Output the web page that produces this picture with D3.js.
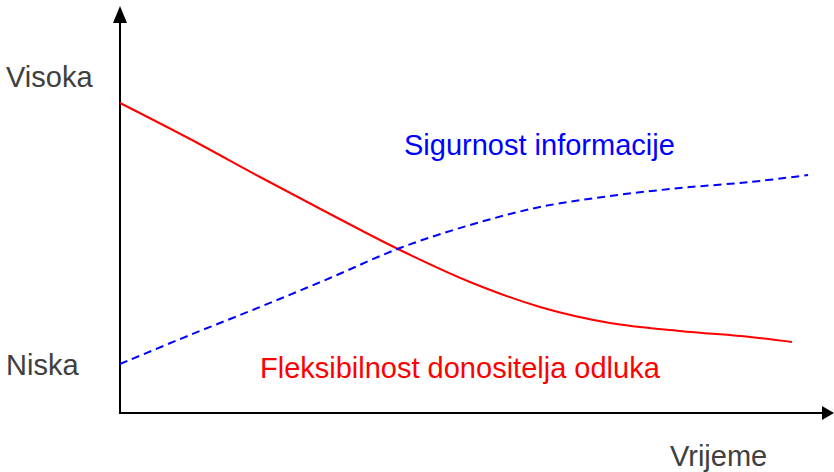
<!DOCTYPE html>
<html>
<head>
<meta charset="utf-8">
<script src="https://cdn.jsdelivr.net/npm/d3@7"></script>
<style>
  body { margin: 0; background: #fff; }
  svg { display: block; font-family: "Liberation Sans", Arial, sans-serif; }
</style>
</head>
<body>
<script>
// time on x (0-100), level on y (0 = bottom axis)
const timePoints = [0, 10, 20, 30, 40, 50, 60, 70, 80, 90, 96];
const flexibility = [77.5, 68.5, 59, 49.75, 40.75, 32.75, 26.5, 22.5, 20.5, 19, 17.75];

const infoTime = [0, 10, 20, 30, 40, 50, 60, 70, 80, 90, 98.3];
const certainty = [12.25, 19.5, 26.5, 33.75, 41.25, 47, 51.5, 54.25, 56.25, 57.75, 59.5];

const yLabels = [{ text: 'Visoka', v: 81.5 }, { text: 'Niska', v: 9.5 }];

const width = 834, height = 472;

const svg = d3.select('body')
  .append('svg')
  .attr('width', width)
  .attr('height', height);

const x = d3.scaleLinear().domain([0, 100]).range([120, 820]);
const y = d3.scaleLinear().domain([0, 100]).range([413, 13]);

// axes with arrow heads
svg.append('line')
  .attr('x1', x(0)).attr('y1', y(0) + 1)
  .attr('x2', x(0)).attr('y2', 20)
  .attr('stroke', '#000').attr('stroke-width', 2);
svg.append('path')
  .attr('d', `M${x(0) - 7},23 L${x(0)},6 L${x(0) + 7},23 Z`)
  .attr('fill', '#000');

svg.append('line')
  .attr('x1', x(0) - 1).attr('y1', y(0))
  .attr('x2', 822).attr('y2', y(0))
  .attr('stroke', '#000').attr('stroke-width', 2);
svg.append('path')
  .attr('d', `M822,${y(0) - 7} L834,${y(0)} L822,${y(0) + 7} Z`)
  .attr('fill', '#000');

const line = d3.line()
  .x(d => x(d[0]))
  .y(d => y(d[1]))
  .curve(d3.curveCatmullRom);

svg.append('path')
  .datum(d3.zip(timePoints, flexibility))
  .attr('d', line)
  .attr('fill', 'none')
  .attr('stroke', '#ff0000')
  .attr('stroke-width', 2);

svg.append('path')
  .datum(d3.zip(infoTime, certainty))
  .attr('d', line)
  .attr('fill', 'none')
  .attr('stroke', '#0000ff')
  .attr('stroke-width', 2)
  .attr('stroke-dasharray', '8 5');

svg.selectAll('.ylab')
  .data(yLabels)
  .enter()
  .append('text')
  .attr('class', 'ylab')
  .attr('x', 6)
  .attr('y', d => y(d.v))
  .attr('font-size', 29)
  .attr('fill', '#404040')
  .text(d => d.text);

svg.append('text')
  .attr('x', 670).attr('y', 466)
  .attr('font-size', 29)
  .attr('fill', '#404040')
  .text('Vrijeme');

svg.append('text')
  .attr('x', 404).attr('y', 155)
  .attr('font-size', 29)
  .attr('fill', '#0000ff')
  .text('Sigurnost informacije');

svg.append('text')
  .attr('x', 260).attr('y', 378)
  .attr('font-size', 29)
  .attr('fill', '#ff0000')
  .text('Fleksibilnost donositelja odluka');
</script>
</body>
</html>
